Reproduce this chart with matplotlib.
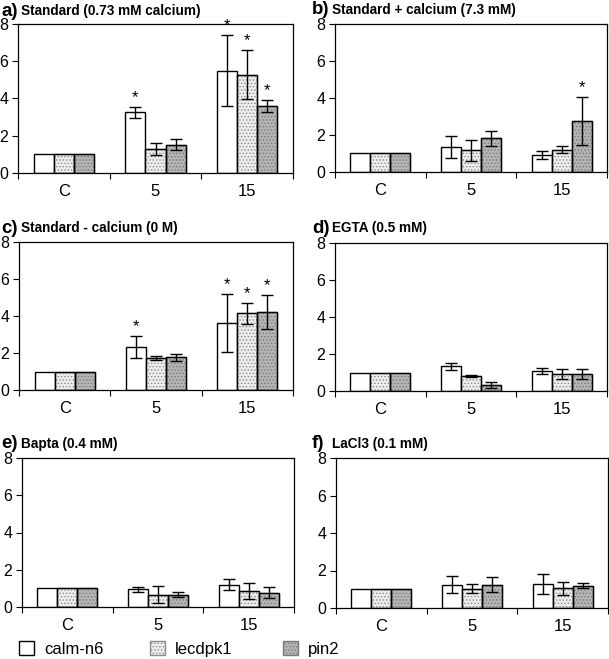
import matplotlib
matplotlib.use("Agg")
import matplotlib.pyplot as plt
import numpy as np

plt.rcParams['font.family'] = ['Liberation Sans', 'DejaVu Sans']
plt.rcParams['hatch.linewidth'] = 0.6

categories = ['C', '5', '15']
series = ['calm-n6', 'lecdpk1', 'pin2']

panel_letters = ['a)', 'b)', 'c)', 'd)', 'e)', 'f)']
panel_titles = ['Standard (0.73 mM calcium)', 'Standard + calcium (7.3 mM)',
                'Standard - calcium (0 M)', 'EGTA (0.5 mM)',
                'Bapta (0.4 mM)', 'LaCl3 (0.1 mM)']

# values[panel][series][category]
values = [
    [[1, 3.27, 5.49], [1, 1.30, 5.27], [1, 1.52, 3.59]],
    [[1, 1.33, 0.92], [1, 1.17, 1.20], [1, 1.82, 2.77]],
    [[1, 2.34, 3.63], [1, 1.74, 4.15], [1, 1.76, 4.21]],
    [[1, 1.35, 1.10], [1, 0.83, 0.94], [1, 0.32, 0.90]],
    [[1, 0.95, 1.19], [1, 0.67, 0.86], [1, 0.67, 0.76]],
    [[1, 1.25, 1.29], [1, 1.04, 1.05], [1, 1.25, 1.20]],
]
errors = [
    [[0, 0.30, 1.90], [0, 0.31, 1.32], [0, 0.31, 0.34]],
    [[0, 0.60, 0.20], [0, 0.55, 0.18], [0, 0.40, 1.30]],
    [[0, 0.60, 1.58], [0, 0.12, 0.57], [0, 0.20, 0.92]],
    [[0, 0.19, 0.17], [0, 0.06, 0.27], [0, 0.17, 0.27]],
    [[0, 0.13, 0.30], [0, 0.47, 0.45], [0, 0.12, 0.30]],
    [[0, 0.45, 0.54], [0, 0.26, 0.34], [0, 0.42, 0.15]],
]
# significance stars: (series index, category index)
stars = [
    [(0, 1), (0, 2), (1, 2), (2, 2)],
    [(2, 2)],
    [(0, 1), (0, 2), (1, 2), (2, 2)],
    [], [], [],
]

facecolors = ['white', '#ededed', '#b4b4b4']
hatches = [None, '.....', '.....']
hatchcolors = [None, '#8a8a8a', '#7a7a7a']

W, H = 609, 659
fig = plt.figure(figsize=(W / 100, H / 100), dpi=100)

# axes boxes in pixel coords: left, right, top, bottom
boxes = [(18, 293, 24, 173), (335, 607, 24, 172),
         (19, 293, 242, 390), (335, 607, 243, 391),
         (22, 294, 458, 607), (336, 608, 458, 608)]
title_x = [1, 312, 1, 312, 1, 312]
title_y = [11, 10, 228, 228, 444, 444]

width = 0.22
x = np.arange(len(categories))
handles = []
for p in range(6):
    l, r, t, b = boxes[p]
    ax = fig.add_axes([l / W, 1 - b / H, (r - l) / W, (b - t) / H])
    for s in range(3):
        bars = ax.bar(x + (s - 1) * width, values[p][s], width,
                      color=facecolors[s], edgecolor='black', linewidth=1.0,
                      hatch=hatches[s], zorder=2, label=series[s])
        if hatches[s]:
            for bar in bars:
                bar.set_edgecolor(hatchcolors[s])
            # outline drawn separately in black
            ax.bar(x + (s - 1) * width, values[p][s], width, fill=False,
                   edgecolor='black', linewidth=1.0, zorder=3)
        if p == 0:
            handles.append(bars)
        err = np.array(errors[p][s])
        idx = err > 0
        ax.errorbar((x + (s - 1) * width)[idx], np.array(values[p][s])[idx],
                    yerr=err[idx], fmt='none', ecolor='black', elinewidth=1.0,
                    capsize=4, capthick=1.0, zorder=4)
    for (s, c) in stars[p]:
        ax.text(x[c] + (s - 1) * width, values[p][s][c] + errors[p][s][c] + 0.1,
                '*', ha='center', va='bottom', fontsize=12, zorder=5)
    ax.set_xlim(-0.5, 2.5)
    ax.set_ylim(0, 8)
    ax.set_yticks([0, 2, 4, 6, 8])
    ax.set_xticks(x)
    ax.set_xticklabels(categories, fontsize=12)
    ax.set_xticks([-0.5, 0.5, 1.5, 2.5], minor=True)
    ax.tick_params(axis='x', which='major', length=0, pad=8)
    ax.tick_params(axis='x', which='minor', length=4, width=0.8, direction='out')
    ax.tick_params(axis='y', labelsize=11.5, length=4, width=0.8, pad=3)
    for sp in ax.spines.values():
        sp.set_linewidth(0.9)
    fig.text(title_x[p] / W, 1 - title_y[p] / H, panel_letters[p],
             fontsize=13.5, fontweight='bold', va='center', ha='left')
    fig.text((title_x[p] + 20) / W, 1 - title_y[p] / H, panel_titles[p],
             fontsize=9.8, fontweight='bold', va='center', ha='left')

legend_x = [4, 135, 268]
for s in range(3):
    h = handles[s]
    fig.legend([h], [series[s]], loc='center left',
               bbox_to_anchor=(legend_x[s] / W, 1 - 649 / H), frameon=False,
               fontsize=12, handlelength=0.9, handleheight=0.9, handletextpad=0.6)

fig.savefig('out.png', dpi=100)
